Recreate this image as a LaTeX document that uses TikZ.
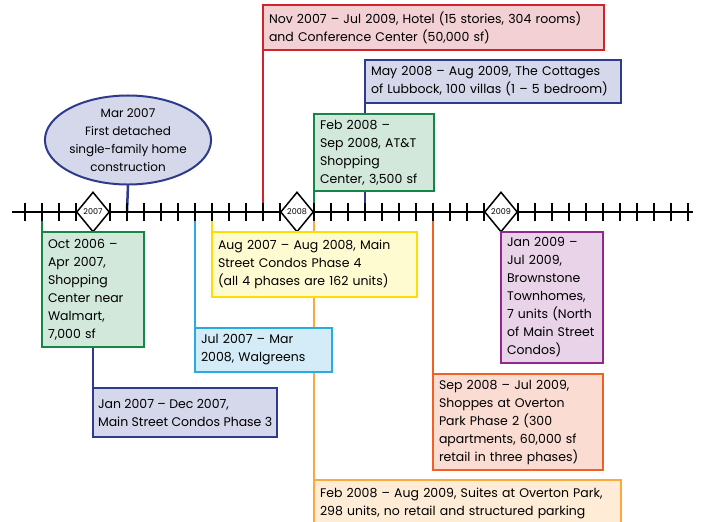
\documentclass[tikz,border=0pt]{standalone}
\usepackage{fontspec}
\setmainfont{Poppins}
\usetikzlibrary{shapes.geometric,backgrounds}

\definecolor{cred}{RGB}{210,35,42}
\definecolor{credfill}{RGB}{243,208,211}
\definecolor{cnavy}{RGB}{46,58,140}
\definecolor{cnavyfill}{RGB}{213,215,234}
\definecolor{cgreen}{RGB}{20,135,70}
\definecolor{cgreenfill}{RGB}{209,232,219}
\definecolor{cyellow}{RGB}{255,221,0}
\definecolor{cyellowfill}{RGB}{255,251,209}
\definecolor{csky}{RGB}{42,170,226}
\definecolor{cskyfill}{RGB}{211,236,248}
\definecolor{crust}{RGB}{242,97,34}
\definecolor{crustfill}{RGB}{251,220,210}
\definecolor{camber}{RGB}{250,170,60}
\definecolor{camberfill}{RGB}{254,236,214}
\definecolor{cplum}{RGB}{147,39,143}
\definecolor{cplumfill}{RGB}{232,211,232}

\begin{document}
\begin{tikzpicture}[x=1pt, y=-1pt,
   event/.style={draw=#1, fill=#1fill, line width=2pt, outer sep=0pt,
     anchor=north west, align=left, inner xsep=6pt, inner ysep=2pt,
     font=\fontsize{12.5}{18}\selectfont},
   link/.style={draw=#1, line width=2.5pt},
   yearmark/.style={diamond, draw, fill=white, line width=1.5pt,
     minimum width=33pt, minimum height=40pt, inner sep=0pt,
     font=\fontsize{8}{8}\selectfont}]
 \useasboundingbox (0,0) rectangle (702,522);
 % months from Sep 2006 (m0) to Dec 2009 (m39)
 \foreach \k in {0,...,39}
   \coordinate (m\k) at ({25+17*\k},212);
 \draw[line width=2.5pt] (12,212) -- (693,212);
 \foreach \k in {0,...,39}
   \draw[line width=2.5pt] (m\k) ++(0,-9) -- ++(0,18);
 \node[yearmark] (y2007) at (m4)  {2007};
 \node[yearmark] (y2008) at (m16) {2008};
 \node[yearmark] (y2009) at (m28) {2009};

 \node[ellipse, draw=cnavy, fill=cnavyfill, line width=2pt, outer sep=0pt,
       minimum width=159pt, minimum height=79pt, inner sep=0pt, align=center,
       font=\fontsize{12}{18}\selectfont]
   (first) at (128,140) {Mar 2007\\First detached\\single-family home\\construction};

 \node[event=cred, text width=329pt, minimum height=45pt] (hotel) at (263,5)
   {Nov 2007 – Jul 2009, Hotel (15 stories, 304 rooms)\\and Conference Center (50,000 sf)};
 \node[event=cnavy, text width=244pt, minimum height=43pt] (cottages) at (365,60)
   {May 2008 – Aug 2009, The Cottages\\of Lubbock, 100 villas (1 – 5 bedroom)};
 \node[event=cgreen, text width=108pt, minimum height=77pt] (att) at (314,114)
   {Feb 2008 –\\Sep 2008, AT\&T\\Shopping\\Center, 3,500 sf};
 \node[event=cgreen, text width=90pt, minimum height=115pt] (walmart) at (42,232)
   {Oct 2006 –\\Apr 2007,\\Shopping\\Center near\\Walmart,\\7,000 sf};
 \node[event=cyellow, text width=193pt, minimum height=65pt] (phase4) at (212,232)
   {Aug 2007 – Aug 2008, Main\\Street Condos Phase 4\\(all 4 phases are 162 units)};
 \node[event=csky, text width=125pt, minimum height=44pt] (walgreens) at (195,328)
   {Jul 2007 – Mar\\2008, Walgreens};
 \node[event=cnavy, inner xsep=5pt, minimum height=49pt] (phase3) at (93,388)
   {Jan 2007 – Dec 2007,\\Main Street Condos Phase 3};
 \node[event=cplum, text width=90pt, minimum height=131pt] (brownstone) at (501,232)
   {Jan 2009 –\\Jul 2009,\\Brownstone\\Townhomes,\\7 units (North\\of Main Street\\Condos)};
 \node[event=crust, text width=158pt, minimum height=96pt] (shoppes) at (433,374)
   {Sep 2008 – Jul 2009,\\Shoppes at Overton\\Park Phase 2 (300\\apartments, 60,000 sf\\retail in three phases)};
 \node[event=camber, text width=295pt, minimum height=46pt] (suites) at (314,480)
   {Feb 2008 – Aug 2009, Suites at Overton Park,\\298 units, no retail and structured parking};

 \begin{pgfonlayer}{background}
   \draw[link=cnavy]   (first.south)         -- (m6);
   \draw[link=cred]    (hotel.south west)    -- (m14);
   \draw[link=cnavy]   (cottages.south west) -- (m20);
   \draw[link=cgreen]  (att.south west)      -- (m17);
   \draw[link=cgreen]  (m1)  -- (walmart.north west);
   \draw[link=cnavy]   (m4)  -- (phase3.north west);
   \draw[link=csky]    (m10) -- (walgreens.north west);
   \draw[link=cyellow] (m11) -- (phase4.north west);
   \draw[link=camber]  (m17) -- (suites.north west);
   \draw[link=crust]   (m24) -- (shoppes.north west);
   \draw[link=cplum]   (m28) -- (brownstone.north west);
 \end{pgfonlayer}
\end{tikzpicture}
\end{document}
